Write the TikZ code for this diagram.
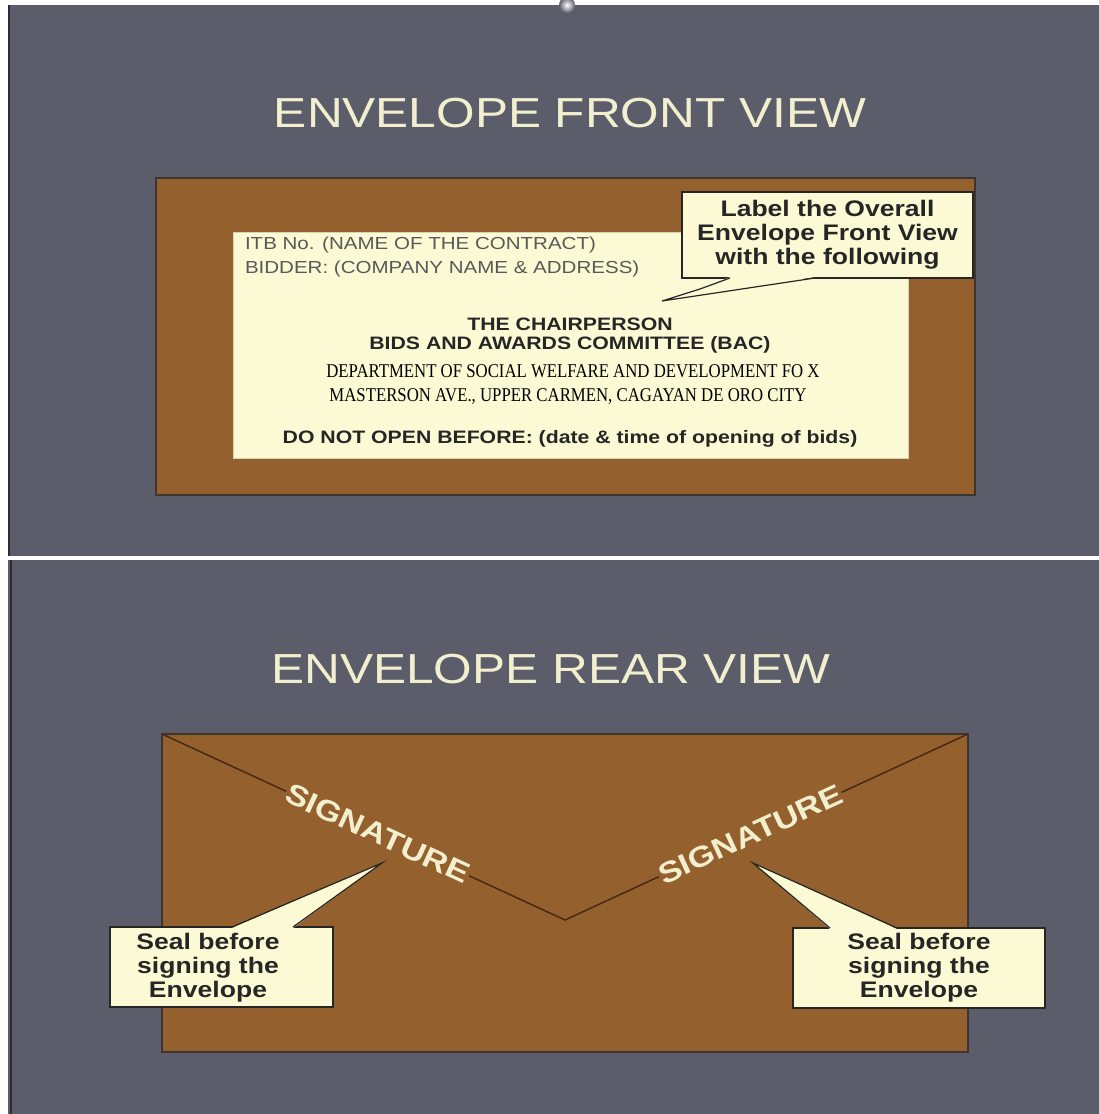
\documentclass[tikz,border=0pt]{standalone}
\usepackage{fontspec}
\usepackage{xcolor}
\usetikzlibrary{positioning}
\newfontfamily\slidefont[FakeStretch=1.18]{Liberation Sans}
\newfontfamily\addrfont[FakeStretch=0.86]{Liberation Serif}
\definecolor{slidegray}{HTML}{5C5D6B}
\definecolor{slideedge}{HTML}{2B2C36}
\definecolor{kraft}{HTML}{93602E}
\definecolor{kraftedge}{HTML}{3E3431}
\definecolor{flapline}{HTML}{4A2A14}
\definecolor{paper}{HTML}{FCFAD4}
\definecolor{chalk}{HTML}{F2EFCF}
\definecolor{ink}{HTML}{262626}
\tikzset{every node/.style={inner sep=0pt, outer sep=0pt},
	envelope/.style={draw=kraftedge, line width=2pt, fill=kraft},
	sheet/.style={draw=paper!85!black, line width=0.6pt, fill=paper},
	note/.style={draw=ink, line width=1.2pt, fill=paper, align=center, text=ink, font=\slidefont\bfseries\fontsize{22.5}{24}\selectfont},
	pointer/.style={draw=ink, line width=1.2pt},
	heading/.style={text=chalk, font=\slidefont\fontsize{42}{48}\selectfont},
	small print/.style={text=black!65, font=\slidefont\fontsize{17.4}{20}\selectfont},
	address bold/.style={text=ink, font=\slidefont\bfseries\fontsize{18}{20}\selectfont},
	address serif/.style={text=black, font=\addrfont\fontsize{19.5}{22}\selectfont},
	flap/.style={draw=flapline, line width=1.5pt},
	signature/.style={fill=kraft, text=chalk, inner sep=1pt, font=\slidefont\bfseries\fontsize{29}{32}\selectfont}}

\begin{document}
\begin{tikzpicture}[x=1pt, y=-1pt]
	\useasboundingbox (0,0) rectangle (1099,1114);
	\fill[white] (0,0) rectangle (1099,1114);
	\fill[slidegray] (8,5) rectangle (1099,556);
	\fill[slidegray] (8,560) rectangle (1099,1114);
	\draw[slideedge, line width=2pt] (9,5) -- (9,556) (11,560) -- (11,1114);
	\shade[inner color=white, outer color=slidegray] (567,5) circle (8);

	% front view
	\node[heading, anchor=base] (Front Title) at (570,127) {ENVELOPE FRONT VIEW};
	\node[envelope, minimum width=819pt, minimum height=317pt] (Front Env) at (565.5,336.5) {};
	\node[sheet, minimum width=675pt, minimum height=226pt] (Label Sheet) at (570.5,345) {};
	\node[small print, anchor=base west] (ITB) at (245,249) {ITB No. (NAME OF THE CONTRACT)};
	\node[small print, anchor=base west] (Bidder) at (245,273) {BIDDER: (COMPANY NAME \& ADDRESS)};
	\node[address bold, anchor=base] (Chair) at (570,330) {THE CHAIRPERSON};
	\node[address bold, anchor=base] (BAC) at (570,349) {BIDS AND AWARDS COMMITTEE (BAC)};
	\node[address serif, anchor=base] (Dept) at (573,377) {DEPARTMENT OF SOCIAL WELFARE AND DEVELOPMENT FO X};
	\node[address serif, anchor=base] (Street) at (568,401) {MASTERSON AVE., UPPER CARMEN, CAGAYAN DE ORO CITY};
	\node[address bold, anchor=base] (Open) at (570,443) {DO NOT OPEN BEFORE: (date \& time of opening of bids)};

	\node[note, minimum width=291pt, minimum height=86pt] (Front Note) at (827.5,235) {Label the Overall\\Envelope Front View\\with the following};
	\coordinate (Front Tip) at (662,301);
	\fill[paper] ([xshift=-97.5pt, yshift=1pt]Front Note.south) -- (700,289) -- (Front Tip) -- ([xshift=-12.5pt, yshift=1pt]Front Note.south) -- cycle;
	\draw[pointer] ([xshift=-97.5pt]Front Note.south) -- (700,289) -- (Front Tip) -- ([xshift=-12.5pt]Front Note.south);

	% rear view
	\node[heading, anchor=base] (Rear Title) at (551,683) {ENVELOPE REAR VIEW};
	\node[envelope, minimum width=806pt, minimum height=318pt] (Rear Env) at (565,893) {};
	\coordinate (Flap) at (565,920);
	\draw[flap] (Rear Env.north west) -- node[signature, pos=0.535, sloped] (Left Sign) {SIGNATURE} (Flap)
		-- node[signature, pos=0.46, sloped] (Right Sign) {SIGNATURE} (Rear Env.north east);

	\node[note, minimum width=223pt, minimum height=80pt] (Left Note) at (221.5,967) {};
	\node[note, draw=none, fill=none] (Left Text) at (208,968) {Seal before\\signing the\\Envelope};
	\node[note, minimum width=252pt, minimum height=80pt] (Right Note) at (919,968) {Seal before\\signing the\\Envelope};
	\coordinate (Left Tip) at (382,863);
	\coordinate (Right Tip) at (753,863);
	\fill[paper] ([xshift=10.5pt, yshift=-1pt]Left Note.north) -- (Left Tip) -- ([xshift=71.5pt, yshift=-1pt]Left Note.north) -- cycle;
	\draw[pointer] ([xshift=10.5pt]Left Note.north) -- (Left Tip) -- ([xshift=71.5pt]Left Note.north);
	\fill[paper] ([xshift=-89pt, yshift=-1pt]Right Note.north) -- (Right Tip) -- ([xshift=-22pt, yshift=-1pt]Right Note.north) -- cycle;
	\draw[pointer] ([xshift=-89pt]Right Note.north) -- (Right Tip) -- ([xshift=-22pt]Right Note.north);
\end{tikzpicture}
\end{document}
